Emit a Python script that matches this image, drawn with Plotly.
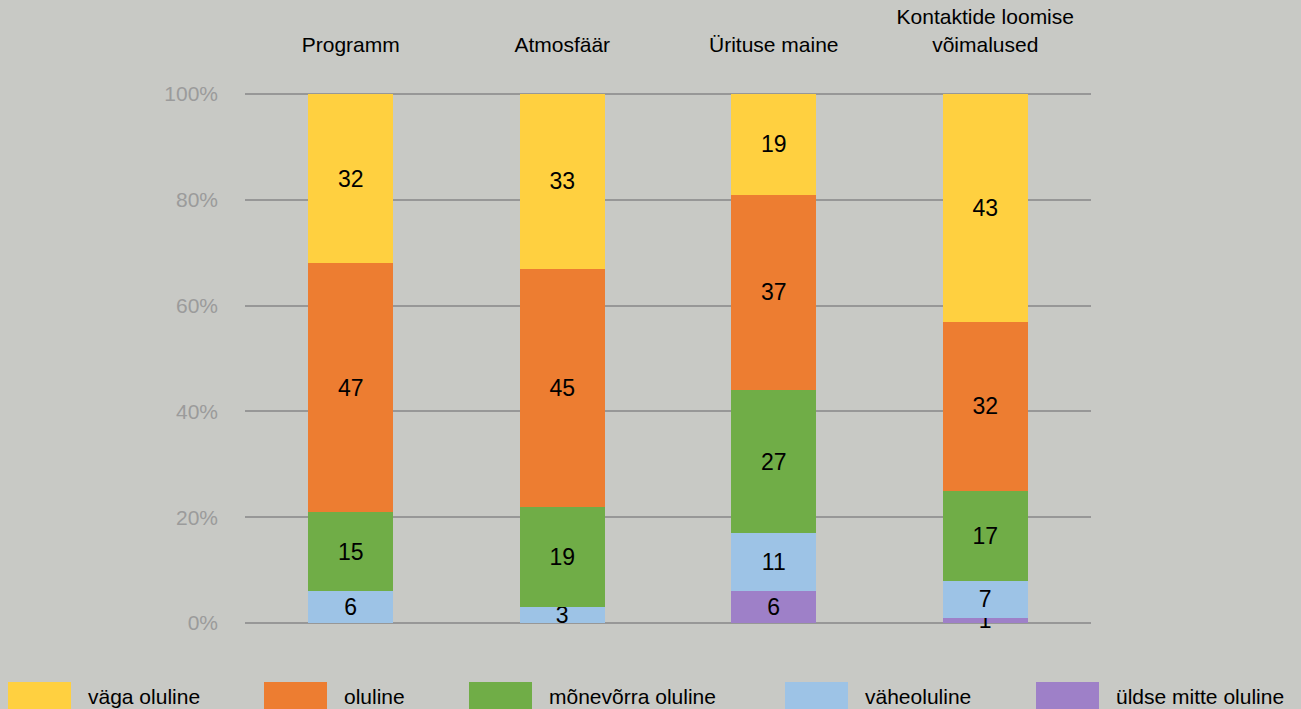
import plotly.graph_objects as go

categories = ["Programm", "Atmosfäär", "Ürituse maine", "Kontaktide loomise<br>võimalused"]

# stacked from bottom to top
series_names = ["üldse mitte oluline", "väheoluline", "mõnevõrra oluline", "oluline", "väga oluline"]
yldse_mitte = [0, 0, 6, 1]
vaheoluline = [6, 3, 11, 7]
monevorra = [15, 19, 27, 17]
oluline = [47, 45, 37, 32]
vaga_oluline = [32, 33, 19, 43]

series_values = [yldse_mitte, vaheoluline, monevorra, oluline, vaga_oluline]
colors = ["#9E80C8", "#9DC3E6", "#70AD47", "#ED7D31", "#FFD040"]

W, H = 1301, 709
L, R, T, B = 245, 1091, 93, 623  # plot area in pixels

fig = go.Figure()
for name, vals, col in zip(series_names, series_values, colors):
    fig.add_trace(go.Bar(
        x=categories, y=vals, name=name,
        marker=dict(color=col, line=dict(width=0)),
        text=[str(v) if v else "" for v in vals],
        textposition="inside", insidetextanchor="middle", textangle=0,
        constraintext="none", cliponaxis=False,
        textfont=dict(size=23, color="black"),
        width=0.4, showlegend=False,
    ))


def px_x(px):
    return (px - L) / (R - L)


def px_y(py):
    return (B - py) / (B - T)


# legend drawn as large swatches along the bottom
legend_order = ["väga oluline", "oluline", "mõnevõrra oluline", "väheoluline", "üldse mitte oluline"]
legend_x = [8, 264, 469, 785, 1036]
shapes = []
annotations = []
for name, x0 in zip(legend_order, legend_x):
    col = colors[series_names.index(name)]
    shapes.append(dict(type="rect", xref="paper", yref="paper",
                       x0=px_x(x0), x1=px_x(x0 + 63), y0=px_y(715), y1=px_y(682),
                       fillcolor=col, line=dict(width=0), layer="above"))
    annotations.append(dict(xref="paper", yref="paper", x=px_x(x0 + 78), y=px_y(696),
                            text=name, showarrow=False, xanchor="left", yanchor="middle",
                            font=dict(size=21, color="black")))

fig.update_layout(
    barmode="stack",
    width=W, height=H,
    margin=dict(l=L, r=W - R, t=T, b=H - B),
    paper_bgcolor="#C8C9C5", plot_bgcolor="#C8C9C5",
    font=dict(family="Liberation Sans, Arial, sans-serif", color="black"),
    shapes=shapes, annotations=annotations,
)
fig.update_xaxes(side="top", showgrid=False, showline=False, zeroline=False,
                 tickfont=dict(size=21, color="black"), ticklabelstandoff=36,
                 ticks="", range=[-0.5, 3.5], automargin=False)
fig.update_yaxes(range=[0, 100.2], tickvals=[0, 20, 40, 60, 80, 100],
                 ticktext=["0%", "20%", "40%", "60%", "80%", "100%"],
                 showgrid=True, gridcolor="#979797", gridwidth=2,
                 zeroline=True, zerolinecolor="#979797", zerolinewidth=2,
                 tickfont=dict(size=21, color="#9B9B9B"), ticklabelstandoff=26,
                 showline=False, ticks="", automargin=False)

fig.write_html("out.html", config={"displayModeBar": False},
               post_script="document.body.style.margin='0';document.body.style.overflow='hidden';")
